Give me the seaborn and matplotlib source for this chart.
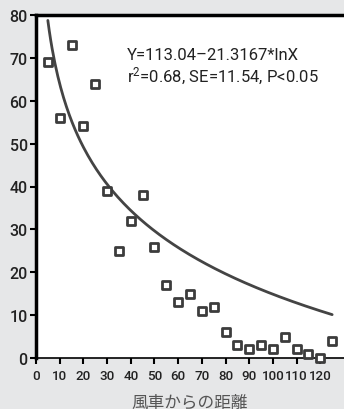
import numpy as np
import pandas as pd
import matplotlib
matplotlib.use("Agg")
import matplotlib.pyplot as plt
import seaborn as sns

# Data
distance = [5, 10, 15, 20, 25, 30, 35, 40, 45, 50, 55, 60, 65, 70, 75, 80,
            85, 90, 95, 100, 105, 110, 115, 120, 125]
value = [69, 56, 73, 54, 64, 39, 25, 32, 38, 26, 17, 13, 15, 11, 12, 6,
         3, 2, 3, 2, 5, 2, 1, 0, 4]
# Regression coefficients stated on the chart
intercept = 113.04
slope = -21.3167
x_ticks = list(range(0, 130, 10))
y_ticks = list(range(0, 90, 10))
eq_line1 = "Y=113.04\u201321.3167*lnX"
eq_line2 = "r$^2$=0.68, SE=11.54, P<0.05"
x_label = "風車からの距離"

df = pd.DataFrame({"distance": distance, "value": value})
fit_x = np.linspace(min(distance), max(distance), 200)
fit_df = pd.DataFrame({"distance": fit_x, "value": intercept + slope * np.log(fit_x)})

sns.set_theme(style="white")
plt.rcParams["font.family"] = ["Roboto", "Noto Sans CJK JP", "DejaVu Sans"]
plt.rcParams["mathtext.default"] = "regular"

fig = plt.figure(figsize=(3.44, 4.10), dpi=100, facecolor="#e6e7e8")
ax = fig.add_axes([36 / 344, (410 - 359) / 410, 1 - 36 / 344, 343 / 410])
ax.set_facecolor("white")

sns.lineplot(data=fit_df, x="distance", y="value", ax=ax, color="#444444",
             linewidth=2.0, zorder=2)
sns.scatterplot(data=df, x="distance", y="value", ax=ax, marker="s", s=30,
                facecolor="white", edgecolor="#3c3c3c", linewidth=2.0,
                zorder=3, clip_on=False)

ax.set_xlim(0, 130)
ax.set_ylim(0, 80)
ax.set_xticks(x_ticks)
ax.set_yticks(y_ticks)

ax.set_xticklabels([str(t) for t in x_ticks], family="Roboto", fontweight="medium",
                   fontsize=9.6, color="#222222")
ax.set_yticklabels([str(t) for t in y_ticks], family="Roboto", fontweight="medium",
                   fontsize=11.5, color="#222222")
ax.tick_params(axis="both", which="major", direction="out", length=4, width=1.5,
               color="black", pad=2, bottom=True, left=True)
ax.tick_params(axis="x", pad=4)

ax.spines["right"].set_visible(False)
ax.spines["top"].set_linewidth(2.5)
ax.spines["top"].set_color("black")
ax.spines["left"].set_linewidth(2.5)
ax.spines["left"].set_color("black")
ax.spines["bottom"].set_linewidth(1.2)
ax.spines["bottom"].set_color("black")

ax.set_xlabel(x_label, fontsize=12, color="#555555", labelpad=8,
              family=["Noto Sans CJK JP", "DejaVu Sans"])
ax.set_ylabel("")

ax.text(0.296, 0.872, eq_line1, transform=ax.transAxes, fontsize=12,
        color="#222222", va="baseline")
ax.text(0.296, 0.808, eq_line2, transform=ax.transAxes, fontsize=12,
        color="#222222", va="baseline")

fig.savefig("out.png", dpi=100, facecolor=fig.get_facecolor())
